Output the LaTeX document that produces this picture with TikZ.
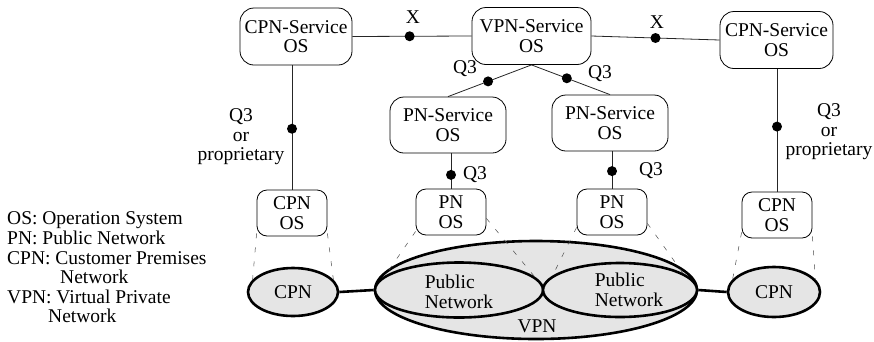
\documentclass[tikz,border=0pt]{standalone}
\usepackage{fontspec}
\setmainfont{Liberation Serif}
\usetikzlibrary{shapes.geometric,calc}
\begin{document}
\begin{tikzpicture}[x=1pt,y=-1pt,
  txt/.style={font=\fontsize{19.5pt}{19.5pt}\selectfont, inner sep=0pt, align=center},
  svcbox/.style={txt, draw, rounded corners=14pt, line width=0.8pt, minimum height=57pt},
  osbox/.style={txt, draw, rounded corners=10pt, line width=0.8pt, minimum width=70pt, minimum height=46pt},
  link/.style={line width=0.8pt, black!85},
  dot/.style={circle, fill=black, inner sep=0pt, minimum size=10pt},
  net/.style={txt, ellipse, draw, line width=2.6pt, fill=black!10},
  fan/.style={dash pattern=on 5pt off 9pt, line width=0.5pt, black!70},
  thickln/.style={line width=2.6pt}
]
\useasboundingbox (0,0) rectangle (874,341);

% legend
\node[txt, anchor=base west] (leg1) at (7,224) {OS: Operation System};
\node[txt, anchor=base west] (leg2) at (7,244) {PN: Public Network};
\node[txt, anchor=base west] (leg3) at (7,264) {CPN: Customer Premises};
\node[txt, anchor=base west] (leg4) at (60,283) {Network};
\node[txt, anchor=base west] (leg5) at (7,303) {VPN: Virtual Private};
\node[txt, anchor=base west] (leg6) at (48,322) {Network};

% service boxes
\node[svcbox, minimum width=112pt] (cpnsl) at (296,36.5) {CPN-Service\\OS};
\node[svcbox, minimum width=119pt] (vpns) at (531.5,36) {VPN-Service\\OS};
\node[svcbox, minimum width=113pt] (cpnsr) at (776.5,40) {CPN-Service\\OS};
\node[svcbox, minimum width=116pt, minimum height=56pt] (pnsl) at (448,125) {PN-Service\\OS};
\node[svcbox, minimum width=116pt, minimum height=56pt] (pnsr) at (610,123) {PN-Service\\OS};

% OS boxes
\node[osbox] (cpnol) at (292,213) {CPN\\OS};
\node[osbox] (pnol) at (451,212) {PN\\OS};
\node[osbox] (pnor) at (612,212) {PN\\OS};
\node[osbox] (cpnor) at (777,215) {CPN\\OS};

% top links
\draw[link] (cpnsl.east) -- node[dot, pos=0.48] (dx1) {} (vpns.west);
\node[txt] (xl1) at (413,17) {X};
\draw[link] (vpns.east) -- node[dot, pos=0.5] (dx2) {} (cpnsr.west);
\node[txt] (xl2) at (657,22) {X};
\draw[link] (vpns.south) -- node[dot, pos=0.52] (dq1) {} (pnsl.north);
\node[txt] (ql1) at (465,69) {Q3};
\draw[link] (vpns.south) -- node[dot, pos=0.45] (dq2) {} (pnsr.north);
\node[txt] (ql2) at (600,74) {Q3};

% vertical links
\draw[link] (cpnsl.south -| cpnol.north) -- node[dot, pos=0.51] (dv1) {} (cpnol.north);
\node[txt] (ql3) at (241,137) {Q3\\or\\proprietary};
\draw[link] (cpnsr.south -| cpnor.north) -- node[dot, pos=0.47] (dv2) {} (cpnor.north);
\node[txt] (ql4) at (829,132) {Q3\\or\\proprietary};
\draw[link] (pnsl.south -| pnol.north) -- node[dot, pos=0.61] (dv3) {} (pnol.north);
\node[txt] (ql5) at (475,175) {Q3};
\draw[link] (pnsr.south -| pnor.north) -- node[dot, pos=0.53] (dv4) {} (pnor.north);
\node[txt] (ql6) at (651,171) {Q3};

% networks
\node[net, minimum width=322pt, minimum height=98pt] (vpn) at (536,290) {};
\node[txt] (vpnlbl) at (537,326) {VPN};
\node[net, minimum width=168pt, minimum height=55pt] (pnl) at (459,290) {};
\node[txt, align=left] (pnltxt) at (459,292) {Public\\Network};
\node[net, minimum width=154pt, minimum height=54pt] (pnr) at (620,290) {};
\node[txt, align=left] (pnrtxt) at (629,290) {Public\\Network};
\node[net, minimum width=90pt, minimum height=48pt] (cpnl) at (293,292) {CPN};
\node[net, minimum width=92pt, minimum height=50pt] (cpnr) at (774,292) {CPN};

\draw[thickln] (cpnl.east) -- (vpn.west);
\draw[thickln] (pnr.east) -- (cpnr.west);

% fan lines
\draw[fan] ([yshift=3pt]cpnol.south west) -- (cpnl.163);
\draw[fan] ([yshift=3pt]cpnol.south east) -- (cpnl.17);
\draw[fan] ([yshift=4pt]pnol.south west) -- (pnl.169);
\draw[fan] ([yshift=17pt]pnol.south east) -- (pnl.10);
\draw[fan] ([yshift=8pt]pnor.south west) -- (pnr.168);
\draw[fan] ([yshift=12pt]pnor.south east) -- (pnr.15);
\draw[fan] ([yshift=6pt]cpnor.south west) -- (cpnr.163);
\draw[fan] ([yshift=2pt]cpnor.south east) -- (cpnr.17);
\end{tikzpicture}
\end{document}
